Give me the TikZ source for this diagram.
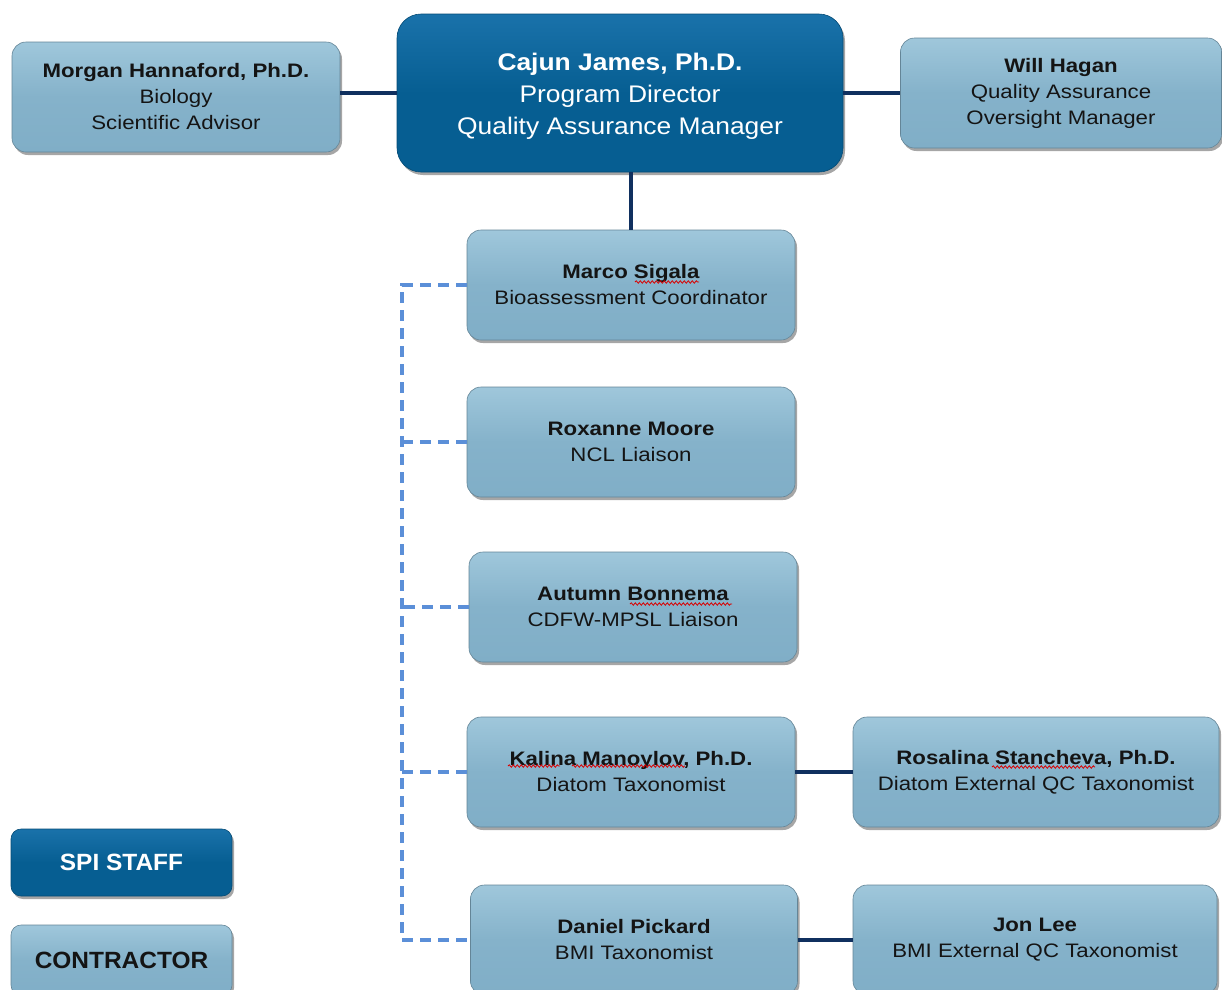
\documentclass[tikz,border=0pt]{standalone}
\usepackage{fontspec}
\setmainfont{Liberation Sans}
\newfontfamily\boxfont[FakeStretch=1.14]{Liberation Sans}
\newfontfamily\bossfont[FakeStretch=1.10]{Liberation Sans}
\newfontfamily\legfont[FakeStretch=1.04]{Liberation Sans}
\usetikzlibrary{shadows,decorations.pathmorphing}
\definecolor{darkbox}{HTML}{065E92}
\definecolor{darkboxtop}{HTML}{1A72AA}
\definecolor{lightbox}{HTML}{85B2CA}
\definecolor{lightboxtop}{HTML}{9FC7DB}
\definecolor{lightboxbot}{HTML}{80AEC7}
\definecolor{navy}{HTML}{10305F}
\definecolor{dashblue}{HTML}{5B8FD8}
\definecolor{txt}{HTML}{141414}
\tikzset{
  boxbase/.style={rounded corners=14pt, align=center, inner sep=0pt,
    drop shadow={shadow xshift=2pt, shadow yshift=-3pt, fill=black, opacity=0.35}},
  contr/.style={boxbase, draw=lightbox!75!black, line width=0.6pt,
    top color=lightboxtop, bottom color=lightboxbot, middle color=lightbox,
    text=txt, minimum width=328pt, minimum height=110pt,
    font=\boxfont\fontsize{19.5}{26}\selectfont},
  spi/.style={boxbase, draw=darkbox!80!black, line width=0.6pt,
    top color=darkboxtop, bottom color=darkbox, middle color=darkbox,
    text=white},
  legbox/.style={minimum width=221pt, rounded corners=10pt,
    font=\legfont\fontsize{23.5}{26}\selectfont\bfseries},
  solidlink/.style={draw=navy, line width=4.5pt},
  dashlink/.style={draw=dashblue, line width=3.5pt, dash pattern=on 11pt off 7pt},
  squiggle/.style={draw=red!85!black, line width=0.8pt, decorate,
    decoration={snake, amplitude=1.2pt, segment length=4pt}},
}
\begin{document}
\begin{tikzpicture}[x=1pt,y=-1pt]
\useasboundingbox (0,0) rectangle (1222,989);
\coordinate (trunkTop) at (402,285);
\coordinate (trunkBot) at (402,940);
% nodes
\node[spi, minimum width=446pt, minimum height=158pt, rounded corners=24pt] (cajun) at (620,93) {};
\node[align=center, inner sep=0pt, text=white, font=\bossfont\fontsize{24}{32}\selectfont]
  (cajuntext) at ([yshift=-3pt]cajun.center)
  {\textbf{Cajun James, Ph.D.}\\Program Director\\Quality Assurance Manager};
\node[contr] (morgan) at (176,97) {\textbf{Morgan Hannaford, Ph.D.}\\Biology\\Scientific Advisor};
\node[contr, minimum width=321pt] (will) at (1061,93) {\textbf{Will Hagan}\\Quality Assurance\\Oversight Manager};
\node[contr] (marco) at (631,285) {\textbf{Marco Sigala}\\Bioassessment Coordinator};
\node[contr] (roxanne) at (631,442) {\textbf{Roxanne Moore}\\NCL Liaison};
\node[contr] (autumn) at (633,607) {\textbf{Autumn Bonnema}\\CDFW-MPSL Liaison};
\node[contr] (kalina) at (631,772) {\textbf{Kalina Manoylov, Ph.D.}\\Diatom Taxonomist};
\node[contr, minimum width=366pt] (rosalina) at (1036,772) {\textbf{Rosalina Stancheva, Ph.D.}\\Diatom External QC Taxonomist};
\node[contr, minimum width=327pt] (daniel) at (634,940) {\textbf{Daniel Pickard}\\BMI Taxonomist};
\node[contr, minimum width=364pt] (jon) at (1035,940) {\textbf{Jon Lee}\\BMI External QC Taxonomist};
\node[spi, legbox, minimum height=67pt] (legspi) at (121.5,862.5) {SPI STAFF};
\node[contr, legbox, minimum height=70pt] (legcon) at (121.5,960) {CONTRACTOR};
% spell-check underlines
\draw[squiggle] (635,282) -- (699,282);
\draw[squiggle] (630,604) -- (732,604);
\draw[squiggle] (508,766) -- (560,766);
\draw[squiggle] (572,766) -- (685,766);
\draw[squiggle] (992,767) -- (1095,767);
% connectors
\draw[solidlink] (morgan.east |- cajun.west) -- (cajun.west);
\draw[solidlink] (cajun.east) -- (will.west);
\draw[solidlink] (cajun.south -| marco.north) -- (marco.north);
\draw[solidlink] (kalina.east) -- (rosalina.west);
\draw[solidlink] (daniel.east) -- (jon.west);
\draw[dashlink] (marco.west) -- (trunkTop) -- (trunkBot) -- (daniel.west);
\draw[dashlink] (roxanne.west) -- (roxanne.west -| trunkTop);
\draw[dashlink] (autumn.west) -- (autumn.west -| trunkTop);
\draw[dashlink] (kalina.west) -- (kalina.west -| trunkTop);
\end{tikzpicture}
\end{document}
